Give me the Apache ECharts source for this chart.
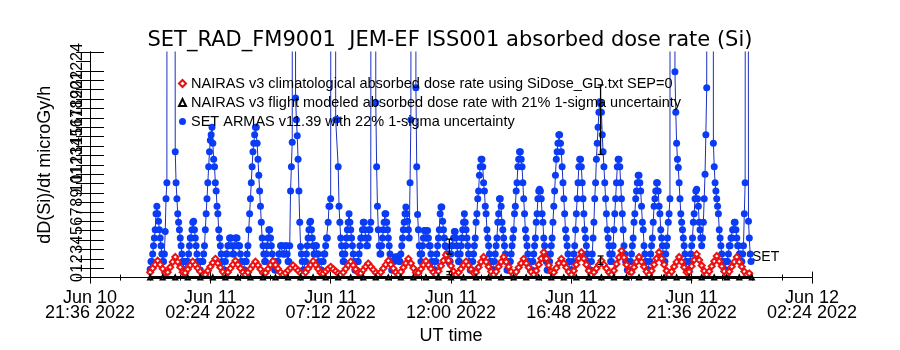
<!DOCTYPE html>
<html lang="en">
<head>
<meta charset="UTF-8">
<title>SET_RAD_FM9001 dose rate</title>
<script src="https://cdn.jsdelivr.net/npm/echarts@6/dist/echarts.min.js"></script>
<style>
    html, body { margin: 0; background: #fff; }
    #main { width: 900px; height: 350px; }
</style>
</head>
<body>
<div id="main"></div>
<script>
    // x values are minutes since Jun 10 2022 21:36 UT
    var T0 = Date.UTC(2022, 5, 10, 21, 36);
    var xMin = 0, xMax = 1728, xStep = 288;

    // SET ARMAS dose rate, every 2 min from Jun 11 00:00
    var armasStart = 144, armasStep = 2;
    var armasDose = [
        0.9, 1.7, 1.7, 2.5, 3.4, 4.2, 5.1, 6.8, 7.6, 6.8, 6.0, 5.1, 4.2, 3.4, 2.5, 1.7, 1.7, 2.5, 4.9, 8.4,
        10.1, 260, 260, 330, 420, 400, 380, 300, 210, 150, 13.4, 10.1, 8.4, 6.8, 5.9, 5.1, 4.2, 3.4, 2.5, 1.7,
        1.7, 0.8, 0.8, 1.7, 1.7, 1.7, 2.5, 3.4, 4.2, 4.2, 5.1, 5.9, 6.0, 5.1, 4.2, 3.4, 2.5, 1.7, 1.7, 0.8,

        0.8, 1.7, 1.7, 1.7, 2.5, 3.4, 5.1, 6.8, 8.4, 10.1, 11.8, 13.4, 14.6, 15.2, 16.0, 14.3, 12.6, 11.8, 10.1, 9.2,
        7.6, 6.8, 5.1, 4.2, 3.4, 2.5, 1.7, 0.8, 0.8, 0.8, 1.7, 2.5, 2.5, 3.4, 3.4, 4.2, 4.2, 4.2, 3.4, 2.5,
        2.5, 3.4, 4.2, 4.2, 4.2, 3.4, 3.4, 3.4, 2.5, 1.7, 1.7, 0.8, 0.8, 0.8, 1.7, 1.7, 2.5, 3.4, 5.1, 6.8,

        8.4, 10.1, 11.8, 13.4, 14.3, 15.2, 16.0, 16.0, 14.3, 12.6, 10.9, 9.2, 7.6, 5.9, 4.2, 3.4, 2.5, 1.7, 1.7, 2.5,
        3.4, 4.2, 5.1, 5.1, 4.2, 3.4, 2.5, 1.7, 1.7, 0.8, 0.8, 0.8, 1.7, 1.7, 2.5, 2.5, 3.4, 3.4, 3.4, 2.5,
        2.5, 2.5, 3.4, 3.4, 2.5, 1.7, 1.7, 3.4, 9.2, 11.8, 14.4, 150, 320, 280, 19.1, 16.8, 15.1, 12.6, 9.2, 5.9,

        3.3, 2.5, 1.7, 0.8, 0.8, 0.8, 1.7, 2.5, 3.4, 4.2, 5.1, 5.9, 6.0, 5.1, 4.2, 3.4, 2.5, 2.5, 3.4, 3.4,
        2.5, 2.5, 1.7, 0.8, 0.8, 0.8, 1.7, 1.7, 2.5, 2.5, 3.4, 4.2, 4.2, 5.9, 7.6, 7.6, 8.4, 150, 280, 380,
        450, 300, 16.8, 16.8, 16.8, 11.8, 7.6, 5.9, 4.2, 3.4, 2.5, 1.7, 1.7, 2.5, 3.4, 4.2, 5.1, 5.9, 6.8, 5.9,

        5.1, 4.2, 3.4, 2.5, 1.7, 0.8, 0.8, 0.8, 1.7, 1.7, 2.5, 3.4, 4.2, 4.2, 5.1, 5.9, 5.9, 5.1, 4.2, 3.4,
        3.4, 4.2, 5.1, 5.1, 5.9, 200, 380, 400, 260, 220, 18.6, 11.8, 7.6, 5.1, 3.4, 2.5, 2.5, 3.4, 4.2, 5.1,
        5.9, 6.8, 6.8, 5.9, 5.1, 4.2, 3.4, 2.5, 1.7, 0.8, 0.8, 0.8, 1.7, 2.2, 2.2, 2.2, 2.2, 2.2, 1.7, 1.7,

        2.5, 3.4, 4.2, 5.1, 5.9, 6.8, 7.5, 6.8, 6.0, 5.1, 4.2, 10.1, 16.8, 180, 300, 360, 420, 350, 20.2, 11.8,
        6.7, 5.1, 3.4, 2.5, 1.7, 2.5, 3.4, 4.2, 5.0, 5.0, 4.2, 4.2, 5.0, 4.2, 3.4, 3.4, 2.5, 1.7, 1.7, 0.8,
        0.8, 0.8, 1.7, 2.5, 3.4, 4.2, 5.1, 6.8, 7.5, 7.5, 6.0, 5.1, 4.2, 3.4, 3.3, 2.5, 2.5, 1.7, 1.7, 1.7,

        2.5, 3.4, 3.4, 4.2, 4.9, 4.9, 4.2, 3.4, 2.5, 1.7, 1.7, 2.5, 3.4, 4.2, 5.1, 5.9, 6.8, 5.9, 5.1, 4.2,
        3.4, 2.5, 1.7, 0.8, 0.8, 0.8, 1.7, 2.5, 3.4, 4.2, 5.9, 6.8, 8.4, 9.2, 10.9, 11.8, 12.6, 12.6, 11.8, 10.1,
        9.2, 7.6, 6.8, 5.1, 4.2, 3.4, 2.5, 1.7, 1.7, 0.8, 0.8, 0.8, 1.7, 2.5, 3.4, 4.2, 5.9, 6.8, 8.4, 8.4,

        7.6, 5.9, 5.1, 4.2, 3.4, 2.5, 1.7, 0.8, 0.8, 0.8, 1.7, 1.7, 2.5, 3.4, 4.2, 5.1, 6.8, 7.6, 9.2, 10.1,
        11.8, 12.6, 13.4, 13.4, 12.6, 11.8, 10.1, 8.4, 6.8, 5.1, 4.2, 3.4, 2.5, 1.7, 1.7, 0.8, 0.8, 0.8, 1.7, 2.5,
        3.4, 4.2, 5.9, 6.8, 8.4, 9.2, 9.4, 9.2, 8.4, 6.8, 5.9, 4.2, 3.4, 2.5, 1.7, 0.8, 0.8, 0.8, 1.7, 2.5,

        3.4, 4.2, 5.9, 7.6, 9.2, 10.9, 12.6, 13.4, 14.3, 15.2, 15.2, 14.3, 13.4, 11.8, 10.1, 8.4, 6.8, 5.1, 4.2, 3.4,
        2.5, 1.7, 1.7, 0.8, 0.8, 0.8, 1.7, 2.5, 3.4, 5.1, 6.8, 8.4, 10.1, 11.8, 12.6, 12.6, 11.8, 10.1, 8.4, 6.8,
        5.1, 4.2, 3.4, 2.5, 1.7, 0.8, 0.8, 0.8, 1.7, 2.5, 4.2, 5.9, 8.4, 10.1, 12.6, 14.3, 16.0, 17.6, 18.7, 18.5,

        17.6, 15.2, 13.4, 11.8, 10.1, 8.4, 6.8, 5.1, 4.2, 3.4, 2.5, 1.7, 1.7, 2.5, 3.4, 5.1, 6.8, 8.4, 10.1, 11.8,
        12.6, 12.6, 11.8, 10.1, 8.4, 6.8, 5.1, 3.4, 2.5, 1.7, 1.7, 0.8, 0.8, 0.8, 1.7, 1.7, 2.5, 3.4, 4.2, 5.9,
        6.8, 8.4, 9.2, 10.1, 10.9, 10.9, 10.1, 9.2, 7.6, 5.9, 5.1, 3.4, 2.5, 1.7, 1.7, 0.8, 0.8, 0.8, 1.7, 2.5,

        3.4, 4.2, 5.9, 7.6, 8.4, 9.2, 10.1, 10.1, 9.2, 7.6, 6.8, 5.1, 4.2, 3.4, 2.5, 1.7, 1.7, 2.5, 3.4, 4.2,
        5.9, 6.8, 8.4, 180, 340, 380, 300, 250, 21.9, 17.6, 14.3, 12.6, 11.7, 10.1, 8.4, 6.8, 5.9, 5.1, 4.2, 3.4,
        2.5, 1.7, 1.7, 0.8, 0.8, 0.8, 1.7, 2.5, 3.4, 4.2, 5.9, 6.8, 8.4, 9.2, 9.4, 8.4, 7.6, 5.9, 5.1, 4.2,

        3.4, 4.2, 5.9, 8.4, 11.0, 15.2, 20.2, 200, 360, 400, 420, 380, 300, 200, 14.3, 11.8, 10.1, 9.2, 8.4, 7.6,
        6.8, 5.1, 4.2, 3.4, 2.5, 1.7, 1.7, 0.8, 0.8, 0.8, 1.7, 1.7, 2.5, 3.4, 3.4, 4.2, 4.2, 5.1, 5.1, 5.9,
        5.9, 5.1, 4.2, 3.4, 3.4, 2.5, 2.5, 1.7, 1.7, 2.5, 3.4, 6.8, 10.1, 150, 260, 120, 6.0, 4.2, 2.5, 1.7
    ];

    // NAIRAS v3 climatological dose rate, every 6 min from Jun 11 00:00
    var climStart = 144, climStep = 6;
    var climDose = [
        0.57, 0.98, 1.38, 1.8, 1.38, 0.93, 0.51, 0.57, 1.10, 1.67, 2.2, 1.67, 1.10, 0.57, 0.50, 0.89, 1.31, 1.7, 1.35, 1.0,
        0.65, 0.3, 0.3, 0.73, 1.15, 1.58, 2.0, 1.52, 1.07, 0.61, 0.3, 0.57, 0.98, 1.38, 1.8, 1.38, 0.98, 0.57, 0.3, 0.55,
        0.93, 1.31, 1.7, 1.31, 0.89, 0.50, 0.50, 0.91, 1.34, 1.75, 1.34, 0.95, 0.56, 0.3, 0.48, 0.75, 1.02, 1.3, 1.02, 0.75,
        0.48, 0.3, 0.56, 0.95, 1.34, 1.75, 1.34, 0.91, 0.50, 0.42, 0.66, 0.91, 1.15, 0.91, 0.68, 0.45, 0.3, 0.55, 0.93, 1.31,
        1.7, 1.31, 0.89, 0.50, 0.47, 0.80, 1.16, 1.5, 1.16, 0.84, 0.52, 0.3, 0.57, 0.98, 1.38, 1.8, 1.38, 0.98, 0.57, 0.3,
        0.61, 1.07, 1.52, 2.0, 1.52, 1.01, 0.54, 0.50, 0.91, 1.34, 1.75, 1.34, 0.95, 0.56, 0.3, 0.68, 1.25, 1.81, 2.4, 1.81,
        1.25, 0.68, 0.3, 0.55, 0.93, 1.31, 1.7, 1.31, 0.89, 0.50, 0.57, 1.10, 1.67, 2.2, 1.67, 1.16, 0.64, 0.3, 0.64, 1.16,
        1.67, 2.2, 1.67, 1.16, 0.64, 0.3, 0.61, 1.07, 1.52, 2.0, 1.52, 1.07, 0.61, 0.3, 0.73, 1.38, 2.03, 2.7, 2.03, 1.31,
        0.64, 0.54, 1.01, 1.52, 2.0, 1.52, 1.07, 0.61, 0.3, 0.73, 1.38, 2.03, 2.7, 2.03, 1.38, 0.73, 0.3, 0.57, 0.98, 1.38,
        1.8, 1.38, 0.98, 0.57, 0.3, 0.76, 1.45, 2.14, 2.85, 2.14, 1.37, 0.66, 0.57, 1.10, 1.67, 2.2, 1.67, 1.16, 0.64, 0.3,
        0.73, 1.38, 2.03, 2.7, 2.03, 1.38, 0.73, 0.3, 0.64, 1.16, 1.67, 2.2, 1.67, 1.10, 0.57, 0.61, 1.22, 1.88, 2.5, 1.88,
        1.29, 0.70, 0.3, 0.66, 1.20, 1.74, 2.3, 1.74, 1.20, 0.66, 0.3, 0.64, 1.16, 1.67, 2.2, 1.67, 1.16, 0.64, 0.3, 0.45
    ];

    // NAIRAS v3 flight modeled dose rate, every 30 min from Jun 11 00:00
    var flightStart = 144, flightStep = 30;
    var flightDose = [
        0, 0, 0, 0, 0, 0, 0, 0, 0, 0, 0, 0, 0, 0, 0, 0, 0, 0, 0, 0, 0, 0, 0, 0, 0,
        0, 0, 0, 0, 0, 0, 0, 0, 0, 0, 0, 0, 0, 0, 0, 0, 0, 0, 0, 0, 0, 0, 0, 0
    ];

    // 1-sigma error bars (minutes since Jun 10 21:36)
    var errTime = [860, 1222];
    var armasLo = [2.5, 13.1];
    var armasHi = [4.1, 20.5];
    var flightLo = [0.3, 1.4];
    var flightHi = [0.65, 2.3];

    var names = [
        'NAIRAS v3 climatological absorbed dose rate using SiDose_GD.txt SEP=0',
        'NAIRAS v3 flight modeled absorbed dose rate with 21% 1-sigma uncertainty',
        'SET ARMAS v11.39 with 22% 1-sigma uncertainty'
    ];
    var FONT = 'Liberation Sans';
    var MONTHS = ['Jan', 'Feb', 'Mar', 'Apr', 'May', 'Jun', 'Jul', 'Aug', 'Sep', 'Oct', 'Nov', 'Dec'];

    function pad(n) { return (n < 10 ? '0' : '') + n; }
    function timeLabel(m) {
        var d = new Date(T0 + m * 60000);
        return MONTHS[d.getUTCMonth()] + ' ' + pad(d.getUTCDate()) + '\n' +
            pad(d.getUTCHours()) + ':' + pad(d.getUTCMinutes()) + ' ' + d.getUTCFullYear();
    }
    function toPairs(start, step, vals) {
        return vals.map(function (v, i) { return [start + step * i, v]; });
    }
    function errData(lo, hi) {
        return errTime.map(function (t, i) { return [t, lo[i], hi[i]]; });
    }
    function renderErr(params, api) {
        var a = api.coord([api.value(0), api.value(1)]);
        var b = api.coord([api.value(0), api.value(2)]);
        var w = 3, st = { stroke: '#000', lineWidth: 1.3 };
        return {
            type: 'group',
            children: [
                { type: 'line', shape: { x1: a[0], y1: a[1], x2: b[0], y2: b[1] }, style: st },
                { type: 'line', shape: { x1: a[0] - w, y1: a[1], x2: a[0] + w, y2: a[1] }, style: st },
                { type: 'line', shape: { x1: b[0] - w, y1: b[1], x2: b[0] + w, y2: b[1] }, style: st }
            ]
        };
    }

    var axisLine = { show: true, lineStyle: { color: '#000', width: 1 } };
    var xAxisBase = {
        type: 'value', min: xMin, max: xMax, interval: xStep,
        axisLine: axisLine,
        axisTick: { inside: true, length: 6, lineStyle: { color: '#000' } },
        minorTick: { show: true, splitNumber: 4, length: 3, lineStyle: { color: '#000' } },
        splitLine: { show: false }
    };
    var yAxisBase = {
        type: 'value', min: 0, max: 24, interval: 1,
        axisLine: axisLine,
        axisTick: { inside: true, length: 14, lineStyle: { color: '#000' } },
        splitLine: { show: false }
    };

    var option = {
        backgroundColor: '#fff',
        animation: false,
        textStyle: { fontFamily: FONT },
        title: {
            text: 'SET_RAD_FM9001  JEM-EF ISS001 absorbed dose rate (Si)',
            left: 'center',
            top: 25,
            textStyle: { fontFamily: 'DejaVu Sans', fontSize: 21, fontWeight: 'normal', color: '#000' }
        },
        legend: {
            orient: 'vertical',
            left: 173,
            top: 71,
            itemWidth: 7,
            itemHeight: 7,
            itemGap: 4,
            selectedMode: false,
            textStyle: { fontFamily: FONT, fontSize: 14.5, color: '#000', lineHeight: 15 },
            data: [
                { name: names[0], icon: 'emptyDiamond', itemStyle: { color: '#e01010', borderColor: '#e01010', borderWidth: 0.8 } },
                { name: names[1], icon: 'emptyTriangle', itemStyle: { color: '#000', borderColor: '#000', borderWidth: 0.8 } },
                { name: names[2], icon: 'circle', itemStyle: { color: '#0b3cf5' } }
            ]
        },
        grid: { left: 90, right: 88, top: 52, bottom: 71 },
        xAxis: [
            Object.assign({}, xAxisBase, {
                position: 'bottom',
                name: 'UT time',
                nameLocation: 'middle',
                nameGap: 44,
                nameTextStyle: { fontFamily: FONT, fontSize: 18, color: '#000' },
                axisLabel: {
                    formatter: timeLabel, margin: 13, fontFamily: FONT, fontSize: 18,
                    lineHeight: 15, color: '#000', showMinLabel: true, showMaxLabel: true
                }
            }),
            Object.assign({}, xAxisBase, { position: 'top', axisLabel: { show: false } })
        ],
        yAxis: [
            Object.assign({}, yAxisBase, {
                position: 'left',
                name: 'dD(Si)/dt microGy/h',
                nameLocation: 'middle',
                nameRotate: 90,
                nameGap: 36,
                nameTextStyle: { fontFamily: FONT, fontSize: 18, color: '#000' },
                axisLabel: {
                    rotate: 90, margin: 4, fontFamily: FONT, fontSize: 16, color: '#000',
                    showMinLabel: true, showMaxLabel: true, hideOverlap: false
                }
            }),
            Object.assign({}, yAxisBase, { position: 'right', axisLabel: { show: false } })
        ],
        graphic: [
            { type: 'text', left: 752, top: 250, style: { text: 'SET', fontFamily: FONT, fontSize: 14, fill: '#000' } }
        ],
        series: [
            {
                name: names[2],
                type: 'line',
                data: toPairs(armasStart, armasStep, armasDose),
                symbol: 'circle',
                symbolSize: 7,
                showAllSymbol: true,
                itemStyle: { color: '#0b3cf5' },
                lineStyle: { color: '#1a30c0', width: 1 },
                emphasis: { disabled: true },
                z: 2
            },
            {
                name: names[0],
                type: 'line',
                data: toPairs(climStart, climStep, climDose),
                symbol: 'emptyDiamond',
                symbolSize: 6,
                showAllSymbol: true,
                itemStyle: { color: '#ee1111', borderWidth: 1.3 },
                lineStyle: { color: '#ee1111', width: 2.5 },
                emphasis: { disabled: true },
                z: 3
            },
            {
                name: names[1],
                type: 'line',
                data: toPairs(flightStart, flightStep, flightDose),
                symbol: 'emptyTriangle',
                symbolSize: 4,
                showAllSymbol: true,
                clip: false,
                itemStyle: { color: '#000' },
                lineStyle: { color: '#000', width: 3 },
                emphasis: { disabled: true },
                z: 4
            },
            {
                type: 'custom',
                renderItem: renderErr,
                data: errData(armasLo, armasHi),
                encode: { x: 0, y: [1, 2] },
                z: 5
            },
            {
                type: 'custom',
                renderItem: renderErr,
                data: errData(flightLo, flightHi),
                encode: { x: 0, y: [1, 2] },
                z: 5
            }
        ]
    };

    var myChart = echarts.init(document.getElementById('main'));
    myChart.setOption(option);
</script>
</body>
</html>
